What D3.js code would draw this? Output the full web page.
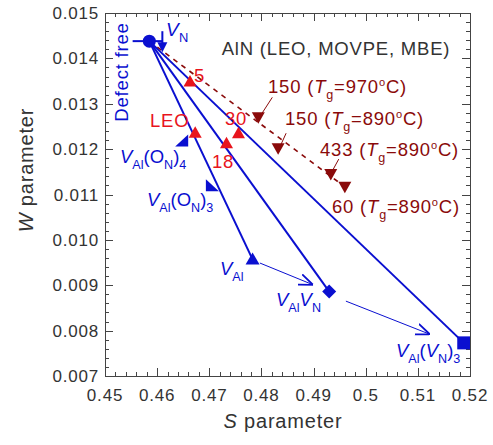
<!DOCTYPE html>
<html>
<head>
<meta charset="utf-8">
<script src="https://cdn.jsdelivr.net/npm/d3@7"></script>
<style>
body { margin: 0; background: white; }
svg text { font-family: "Liberation Sans", Arial, sans-serif; letter-spacing: 0.8px; }
.axis path, .axis line { stroke: #444; shape-rendering: crispEdges; }
</style>
</head>
<body>
<script>
// S-W parameter values
const xTicks = [0.45, 0.46, 0.47, 0.48, 0.49, 0.50, 0.51, 0.52];
const xTickLabels = ["0.45", "0.46", "0.47", "0.48", "0.49", "0.5", "0.51", "0.52"];
const yTicks = [0.007, 0.008, 0.009, 0.010, 0.011, 0.012, 0.013, 0.014, 0.015];
const yTickLabels = ["0.007", "0.008", "0.009", "0.010", "0.011", "0.012", "0.013", "0.014", "0.015"];

const defectFree = [0.4585, 0.01438];
const vN = [0.4610, 0.01418];

// calculated vacancy complexes, joined to defect free
const calcS = [0.4783, 0.4930, 0.5188];
const calcW = [0.00957, 0.00886, 0.00773];
const calcShape = ["triangle", "diamond", "square"];

const oxS = [0.4648, 0.4705];
const oxW = [0.01217, 0.01118];

// LEO samples
const leoLabels = ["5", "LEO", "30", "18"];
const leoS = [0.4663, 0.4673, 0.4756, 0.4733];
const leoW = [0.01349, 0.01236, 0.01235, 0.01213];

// MOVPE / MBE samples
const growthLabels = ["150", "150", "433", "60"];
const growthTg = [970, 890, 890, 890];
const growthS = [0.4794, 0.4832, 0.4933, 0.4960];
const growthW = [0.01270, 0.01202, 0.01145, 0.01117];

// thin arrows V_Al -> V_AlV_N -> V_Al(V_N)3
const arrowFrom = [[0.4797, 0.00949], [0.4962, 0.00865]];
const arrowTo = [[0.4899, 0.00901], [0.5123, 0.00792]];

const blue = "#0a0fd0", red = "#e8141c", dark = "#8a0a0a";

const svg = d3.select("body").append("svg")
  .attr("width", 493).attr("height", 445);

const margin = {top: 13, right: 23, bottom: 69, left: 105};
const width = 493 - margin.left - margin.right;
const height = 445 - margin.top - margin.bottom;
const g = svg.append("g").attr("transform", `translate(${margin.left},${margin.top})`);

const x = d3.scaleLinear().domain([0.45, 0.52]).range([0, width]);
const y = d3.scaleLinear().domain([0.007, 0.015]).range([height, 0]);

const minorX = d3.range(0, 36).map(i => 0.45 + i * 0.002);
const minorY = d3.range(0, 41).map(i => 0.007 + i * 0.0002);

function addAxis(axis, tr) {
  const a = g.append("g").attr("class", "axis").attr("transform", tr).call(axis);
  a.selectAll("text").remove();
  a.select(".domain").attr("stroke-width", 1.2);
  return a;
}
// inward ticks on all four sides
addAxis(d3.axisBottom(x).tickValues(minorX).tickSize(-4).tickSizeOuter(0), `translate(0,${height})`);
addAxis(d3.axisBottom(x).tickValues(xTicks).tickSize(-8).tickSizeOuter(0), `translate(0,${height})`);
addAxis(d3.axisTop(x).tickValues(minorX).tickSize(-4).tickSizeOuter(0), "translate(0,0)");
addAxis(d3.axisTop(x).tickValues(xTicks).tickSize(-8).tickSizeOuter(0), "translate(0,0)");
addAxis(d3.axisLeft(y).tickValues(minorY).tickSize(-4).tickSizeOuter(0), "translate(0,0)");
addAxis(d3.axisLeft(y).tickValues(yTicks).tickSize(-8).tickSizeOuter(0), "translate(0,0)");
addAxis(d3.axisRight(y).tickValues(minorY).tickSize(-4).tickSizeOuter(0), `translate(${width},0)`);
addAxis(d3.axisRight(y).tickValues(yTicks).tickSize(-8).tickSizeOuter(0), `translate(${width},0)`);

g.selectAll(".xlab").data(xTicks).enter().append("text")
  .attr("x", d => x(d)).attr("y", height + 25)
  .attr("text-anchor", "middle").attr("font-size", 17).attr("fill", "#333")
  .text((d, i) => xTickLabels[i]);
g.selectAll(".ylab").data(yTicks).enter().append("text")
  .attr("x", -6).attr("y", d => y(d) + 6)
  .attr("text-anchor", "end").attr("font-size", 17).attr("fill", "#333")
  .text((d, i) => yTickLabels[i]);

// axis titles
const xt = svg.append("text").attr("x", 283).attr("y", 428).attr("text-anchor", "middle")
  .attr("font-size", 20).attr("fill", "#333");
xt.append("tspan").attr("font-style", "italic").text("S");
xt.append("tspan").text(" parameter");
const yt = svg.append("text").attr("transform", "translate(33,170) rotate(-90)")
  .attr("text-anchor", "middle").attr("font-size", 20).attr("fill", "#333");
yt.append("tspan").attr("font-style", "italic").text("W");
yt.append("tspan").text(" parameter");

svg.append("text").attr("x", 336).attr("y", 55).attr("text-anchor", "middle")
  .attr("font-size", 18.5).attr("fill", "#333").text("AlN (LEO, MOVPE, MBE)");

const defs = svg.append("defs");
defs.append("clipPath").attr("id", "plotClip").append("rect")
  .attr("width", width).attr("height", height);
defs.append("marker").attr("id", "openArrow").attr("viewBox", "0 0 10 10")
  .attr("refX", 10).attr("refY", 5).attr("markerWidth", 14).attr("markerHeight", 14)
  .attr("markerUnits", "userSpaceOnUse").attr("orient", "auto")
  .append("path").attr("d", "M0,1 L10,5 L0,9").attr("fill", "none")
  .attr("stroke", blue).attr("stroke-width", 1.3);

const plot = g.append("g").attr("clip-path", "url(#plotClip)");

// dashed trend line for grown samples
plot.append("line")
  .attr("x1", x(defectFree[0])).attr("y1", y(defectFree[1]))
  .attr("x2", x(growthS[3])).attr("y2", y(growthW[3]))
  .attr("stroke", dark).attr("stroke-width", 1.6).attr("stroke-dasharray", "5,5");

// lines from defect free to the vacancy complexes
calcS.forEach((s, i) => {
  plot.append("line")
    .attr("x1", x(defectFree[0])).attr("y1", y(defectFree[1]))
    .attr("x2", x(s)).attr("y2", y(calcW[i]))
    .attr("stroke", blue).attr("stroke-width", 2);
});

arrowFrom.forEach((p, i) => {
  plot.append("line")
    .attr("x1", x(p[0])).attr("y1", y(p[1]))
    .attr("x2", x(arrowTo[i][0])).attr("y2", y(arrowTo[i][1]))
    .attr("stroke", blue).attr("stroke-width", 1).attr("marker-end", "url(#openArrow)");
});

// horizontal bar through the defect-free point
plot.append("line")
  .attr("x1", x(0.4553)).attr("y1", y(defectFree[1]))
  .attr("x2", x(vN[0])).attr("y2", y(defectFree[1]))
  .attr("stroke", blue).attr("stroke-width", 2);

plot.append("circle").attr("cx", x(defectFree[0])).attr("cy", y(defectFree[1]))
  .attr("r", 6.5).attr("fill", blue);

// V_N arrow
const vx = x(vN[0]), vy = y(vN[1]);
plot.append("line").attr("x1", vx).attr("y1", vy - 19).attr("x2", vx).attr("y2", vy - 6)
  .attr("stroke", blue).attr("stroke-width", 2);
plot.append("path").attr("d", `M${vx - 5},${vy - 8} L${vx + 5},${vy - 8} L${vx},${vy + 2} Z`)
  .attr("fill", blue);

// calculated markers
calcS.forEach((s, i) => {
  const px = x(s), py = y(calcW[i]);
  let d;
  if (calcShape[i] === "triangle") d = `M${px},${py - 7} L${px + 7},${py + 5} L${px - 7},${py + 5} Z`;
  else if (calcShape[i] === "diamond") d = `M${px},${py - 7} L${px + 7},${py} L${px},${py + 7} L${px - 7},${py} Z`;
  else d = `M${px - 6.5},${py - 6.5} h13 v13 h-13 Z`;
  plot.append("path").attr("d", d).attr("fill", blue);
});

// V_Al(O_N) markers (half triangles)
plot.append("path").attr("d", `M${x(oxS[0]) + 6},${y(oxW[0]) - 7} L${x(oxS[0]) + 6},${y(oxW[0]) + 5} L${x(oxS[0]) - 7},${y(oxW[0]) + 5} Z`)
  .attr("fill", blue);
plot.append("path").attr("d", `M${x(oxS[1]) - 6},${y(oxW[1]) - 7} L${x(oxS[1]) + 7},${y(oxW[1]) + 5} L${x(oxS[1]) - 6},${y(oxW[1]) + 5} Z`)
  .attr("fill", blue);

// LEO red triangles
leoS.forEach((s, i) => {
  const px = x(s), py = y(leoW[i]);
  plot.append("path").attr("d", `M${px},${py - 6.5} L${px + 6.5},${py + 5} L${px - 6.5},${py + 5} Z`)
    .attr("fill", red);
});

// grown samples dark-red down triangles
growthS.forEach((s, i) => {
  const px = x(s), py = y(growthW[i]);
  plot.append("path").attr("d", `M${px - 6.5},${py - 5} L${px + 6.5},${py - 5} L${px},${py + 6.5} Z`)
    .attr("fill", dark);
});

// leader lines, offsets from each marker
const leaders = [[14, -20, 3, -3], [8, -15, 3, -4], [8, -15, 2, -4]];
leaders.forEach((l, i) => {
  const px = x(growthS[i]), py = y(growthW[i]);
  g.append("line").attr("x1", px + l[0]).attr("y1", py + l[1]).attr("x2", px + l[2]).attr("y2", py + l[3])
    .attr("stroke", dark).attr("stroke-width", 1);
});

// ---- labels ----
function subLabel(xp, yp, parts, color, size, spacing) {
  const t = svg.append("text").attr("x", xp).attr("y", yp).attr("fill", color)
    .attr("font-size", size).style("letter-spacing", spacing + "px");
  let shift = 0;
  parts.forEach(p => {
    const ts = t.append("tspan").text(p.t);
    let target = 0;
    if (p.sub) target = size * 0.33;
    if (p.sup) target = -size * 0.4;
    ts.attr("dy", target - shift);
    shift = target;
    if (p.i) ts.attr("font-style", "italic");
    if (p.sub) ts.attr("font-size", size * 0.68);
    if (p.sup) ts.attr("font-size", size * 0.6);
  });
  return t;
}

subLabel(166, 36, [{t: "V", i: true}, {t: "N", sub: true}], blue, 19, 0.3);
subLabel(120, 163, [{t: "V", i: true}, {t: "Al", sub: true}, {t: "(O"}, {t: "N", sub: true}, {t: ")"}, {t: "4", sub: true}], blue, 18.5, 0);
subLabel(147, 206, [{t: "V", i: true}, {t: "Al", sub: true}, {t: "(O"}, {t: "N", sub: true}, {t: ")"}, {t: "3", sub: true}], blue, 18.5, 0);
subLabel(220, 275, [{t: "V", i: true}, {t: "Al", sub: true}], blue, 18.5, 0);
subLabel(276, 306, [{t: "V", i: true}, {t: "Al", sub: true}, {t: "V", i: true}, {t: "N", sub: true}], blue, 18.5, 0);
subLabel(396, 357, [{t: "V", i: true}, {t: "Al", sub: true}, {t: "("}, {t: "V", i: true}, {t: "N", sub: true}, {t: ")"}, {t: "3", sub: true}], blue, 18.5, 0);

svg.append("text").attr("transform", "translate(128,72) rotate(-90)")
  .attr("text-anchor", "middle").attr("font-size", 18.5).attr("fill", blue).text("Defect free");

const leoPos = [[194, 82], [150, 127], [225, 125], [212, 168]];
leoLabels.forEach((l, i) => {
  svg.append("text").attr("x", leoPos[i][0]).attr("y", leoPos[i][1])
    .attr("font-size", 18.5).attr("fill", red).text(l);
});

const growthPos = [[268, 93], [285, 125], [320, 156], [332, 213]];
growthLabels.forEach((l, i) => {
  subLabel(growthPos[i][0], growthPos[i][1], [
    {t: l + " ("}, {t: "T", i: true}, {t: "g", sub: true}, {t: "=" + growthTg[i]},
    {t: "o", sup: true}, {t: "C)"}
  ], dark, 18.5, 0.8);
});
</script>
</body>
</html>
